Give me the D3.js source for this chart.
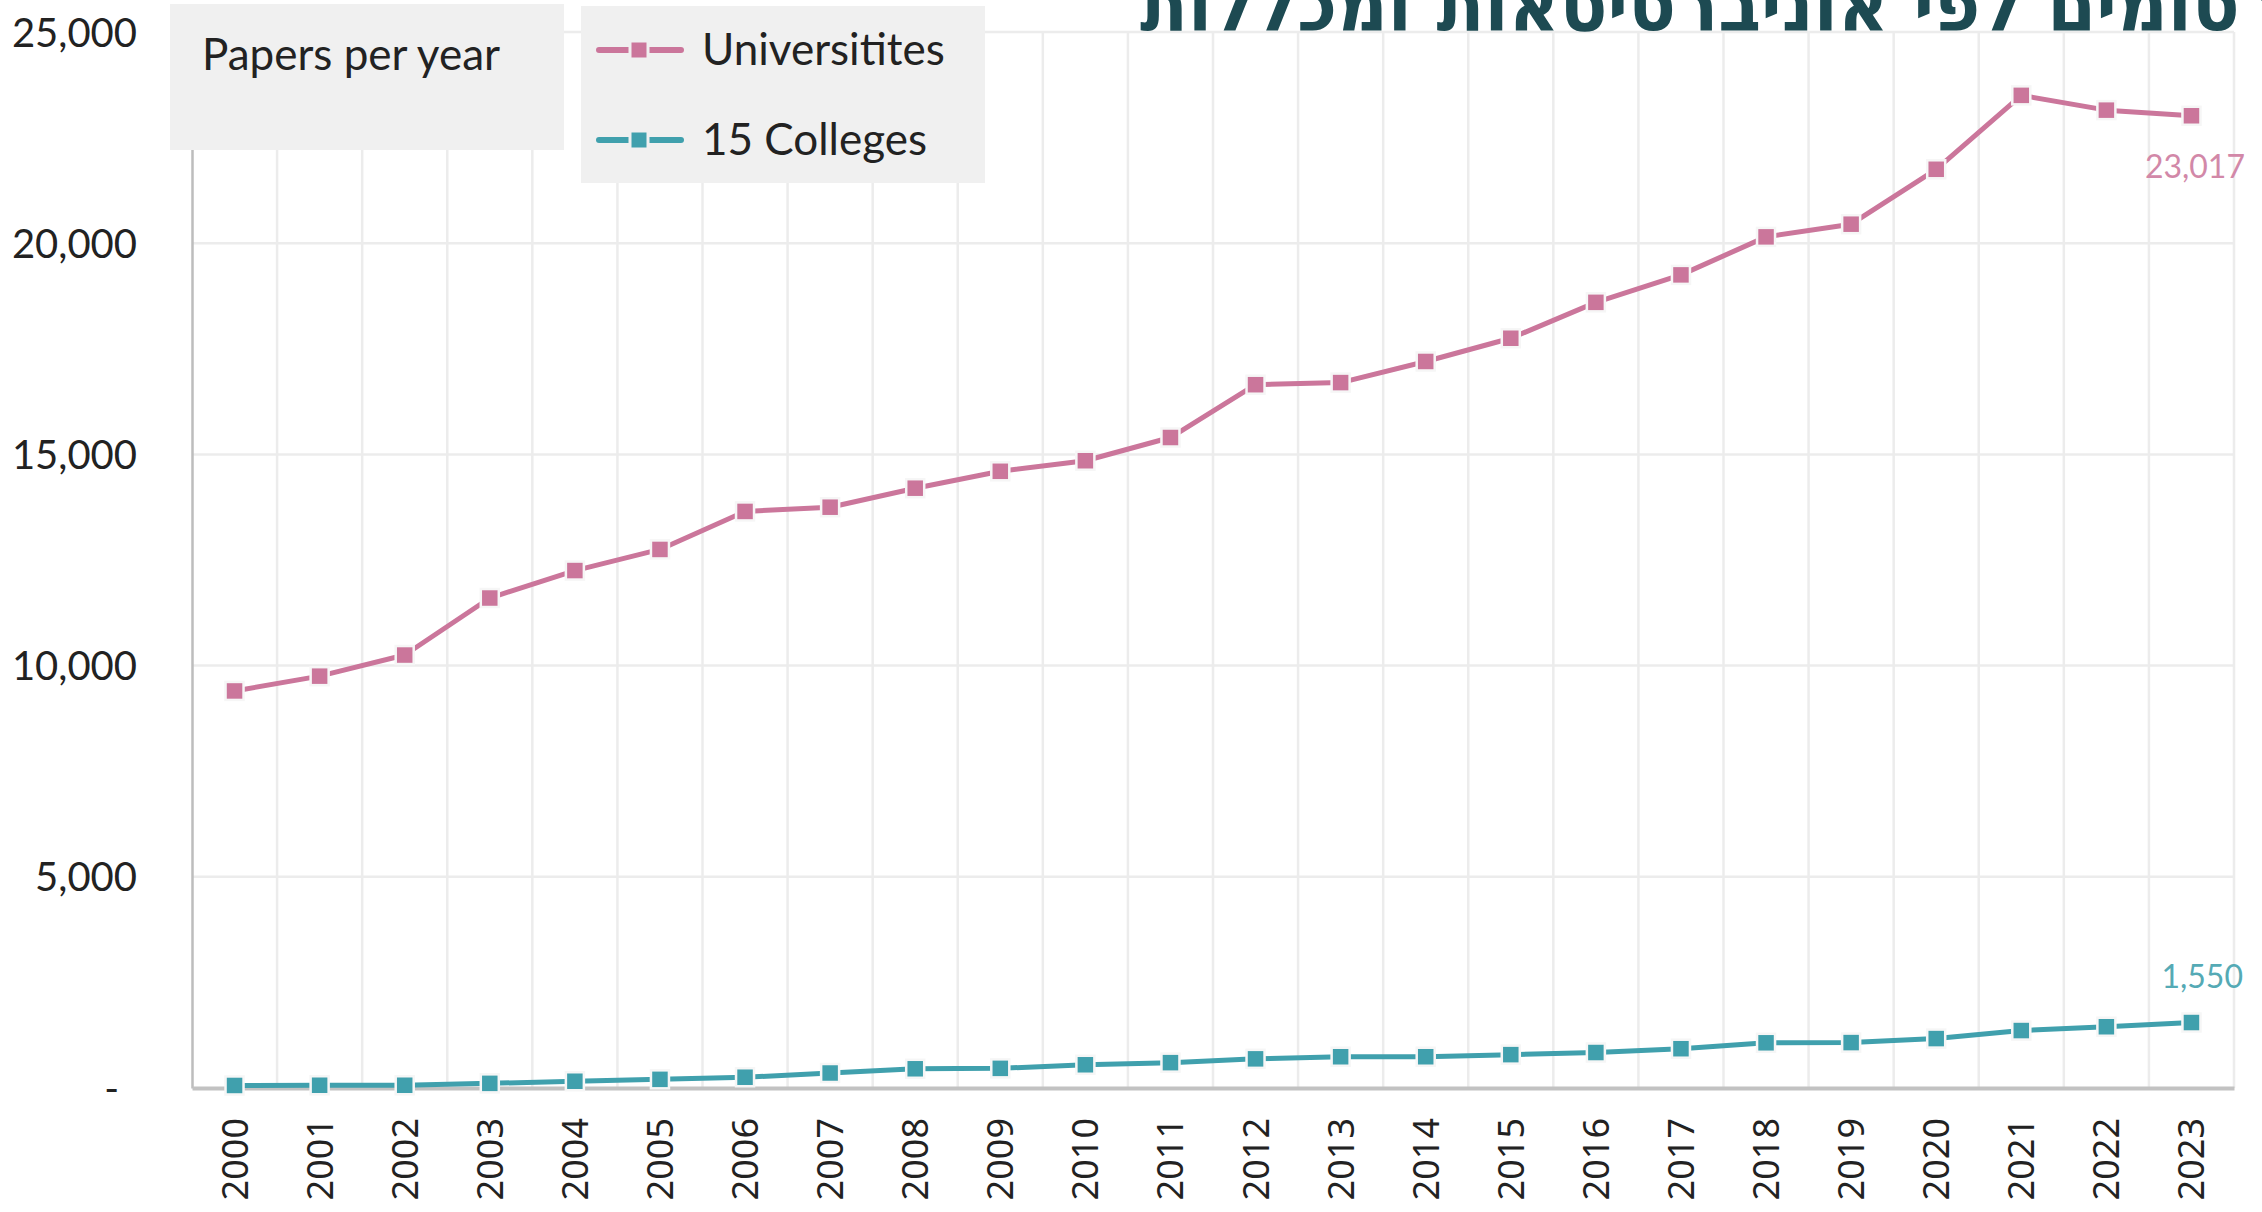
<!DOCTYPE html>
<html>
<head>
<meta charset="utf-8">
<script src="https://cdn.jsdelivr.net/npm/d3@7"></script>
<style>
  html, body { margin: 0; padding: 0; background: #ffffff; }
  svg { display: block; }
</style>
</head>
<body>
<svg id="chart" width="2262" height="1212"></svg>
<script>
const years = ["2000","2001","2002","2003","2004","2005","2006","2007","2008","2009","2010","2011",
               "2012","2013","2014","2015","2016","2017","2018","2019","2020","2021","2022","2023"];
const universities = [9400, 9750, 10250, 11600, 12250, 12750, 13650, 13750, 14200, 14600, 14850, 15400,
                      16650, 16700, 17200, 17750, 18600, 19250, 20150, 20450, 21750, 23500, 23150, 23017];
const colleges = [60, 65, 65, 110, 160, 205, 255, 355, 455, 465, 550, 600,
                  690, 740, 740, 790, 840, 930, 1070, 1075, 1170, 1360, 1450, 1550];
const seriesNames = ["Universitites", "15 Colleges"];
const seriesColors = ["#cb769b", "#40a0ad"];
const yTicks = [0, 5000, 10000, 15000, 20000, 25000];
const legendTitle = "Papers per year";
const titleText = "מספר פרסומים לפי אוניברסיטאות ומכללות";

const series = [
  { name: seriesNames[0], values: universities, color: seriesColors[0] },
  { name: seriesNames[1], values: colleges, color: seriesColors[1] }
];

const svg = d3.select("#chart");
const L = 192, R = 2234, T = 32, B = 1088;

const x = d3.scaleBand().domain(years).range([L, R]).padding(0);
const cx = d => x(d) + x.bandwidth() / 2;
const y = d3.scaleLinear().domain([0, 25000]).range([B, T]);

// horizontal grid
svg.append("g").selectAll("line").data(yTicks.filter(d => d > 0)).join("line")
  .attr("x1", L).attr("x2", R).attr("y1", d => y(d)).attr("y2", d => y(d))
  .attr("stroke", "#ececec").attr("stroke-width", 2.5);

// vertical grid at band boundaries
const bounds = years.map(d => x(d)).concat([R]).slice(1);
svg.append("g").selectAll("line").data(bounds).join("line")
  .attr("x1", d => d).attr("x2", d => d).attr("y1", T).attr("y2", B)
  .attr("stroke", "#ececec").attr("stroke-width", 2.5);

// y axis
const yAxis = svg.append("g").attr("transform", `translate(${L},0)`)
  .call(d3.axisLeft(y).tickValues(yTicks).tickSize(0)
    .tickFormat(d => d === 0 ? "-" : d3.format(",")(d)));
yAxis.select(".domain").attr("stroke", "#bdbdbd").attr("stroke-width", 2.5);
yAxis.selectAll(".tick text")
  .attr("x", d => d === 0 ? -73 : -55)
  .attr("dy", "0.35em")
  .attr("fill", "#222")
  .style("font-family", "Lato, 'Open Sans', sans-serif")
  .style("font-size", "40px");

// x axis
const xAxis = svg.append("g").attr("transform", `translate(0,${B})`)
  .call(d3.axisBottom(x).tickSize(0));
xAxis.select(".domain").attr("stroke", "#c2c2c2").attr("stroke-width", 4);
xAxis.selectAll(".tick text")
  .attr("transform", "rotate(-90)")
  .attr("text-anchor", "end")
  .attr("x", -30)
  .attr("y", 0)
  .attr("dy", "0.36em")
  .attr("fill", "#222")
  .style("font-family", "'Noto Sans', 'DejaVu Sans', sans-serif")
  .style("font-size", "36px");

// lines and markers
const line = d3.line().x((d, i) => cx(years[i])).y(d => y(d));
const ms = 18;
series.forEach(s => {
  svg.append("path").datum(s.values)
    .attr("d", line).attr("fill", "none")
    .attr("stroke", s.color).attr("stroke-width", 5).attr("stroke-linejoin", "round");
  svg.append("g").selectAll("rect").data(s.values).join("rect")
    .attr("x", (d, i) => cx(years[i]) - ms / 2)
    .attr("y", d => y(d) - ms / 2)
    .attr("width", ms).attr("height", ms)
    .attr("fill", s.color).attr("stroke", "#f6f6f6").attr("stroke-width", 2.5);
});

// end labels
svg.append("text")
  .attr("x", 2245).attr("y", y(universities[universities.length - 1]) + 62)
  .attr("text-anchor", "end").attr("fill", "#d288a8")
  .style("font-family", "Lato, sans-serif").style("font-size", "32px")
  .text(d3.format(",")(universities[universities.length - 1]));
svg.append("text")
  .attr("x", 2243).attr("y", y(colleges[colleges.length - 1]) - 35)
  .attr("text-anchor", "end").attr("fill", "#55aab5")
  .style("font-family", "Lato, sans-serif").style("font-size", "32px")
  .text(d3.format(",")(colleges[colleges.length - 1]));

// legend box 1
svg.append("rect").attr("x", 170).attr("y", 4).attr("width", 394).attr("height", 146).attr("fill", "#f0f0f0");
svg.append("text").attr("x", 202).attr("y", 70).attr("fill", "#222")
  .style("font-family", "Lato, sans-serif").style("font-size", "44px").text(legendTitle);

// legend box 2
svg.append("rect").attr("x", 581).attr("y", 6).attr("width", 404).attr("height", 177).attr("fill", "#f0f0f0");
const leg = svg.append("g").selectAll("g").data(series).join("g")
  .attr("transform", (d, i) => `translate(0,${50 + i * 90})`);
leg.append("line").attr("x1", 599).attr("x2", 681).attr("y1", 0).attr("y2", 0)
  .attr("stroke", d => d.color).attr("stroke-width", 6).attr("stroke-linecap", "round");
leg.append("rect").attr("x", 639 - 9).attr("y", -9).attr("width", 18).attr("height", 18)
  .attr("fill", d => d.color).attr("stroke", "#f0f0f0").attr("stroke-width", 3);
leg.append("text").attr("x", 702).attr("y", 15).attr("fill", "#222")
  .style("font-family", "Lato, sans-serif").style("font-size", "44px").text(d => d.name);

// title (cut off at top, as in the source image)
svg.append("text")
  .attr("transform", "translate(1140,30) scale(0.95,1)")
  .attr("x", 0).attr("y", 0).attr("text-anchor", "start")
  .attr("fill", "#1d4a52").style("font-family", "'DejaVu Sans', sans-serif")
  .style("font-weight", "bold").style("font-size", "74px").text(titleText);
</script>
</body>
</html>
